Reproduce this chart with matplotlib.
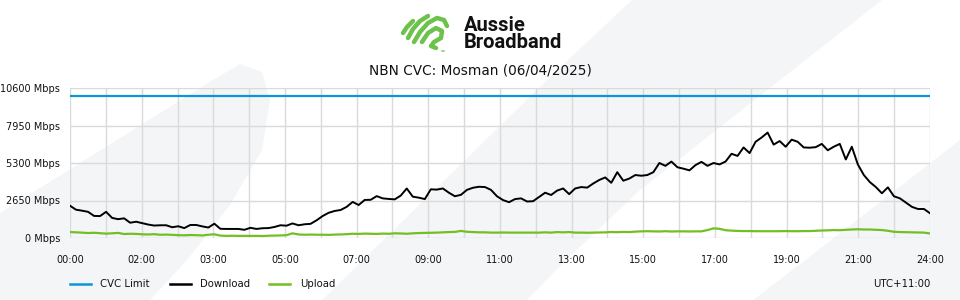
import numpy as np
import matplotlib
matplotlib.use("Agg")
import matplotlib.pyplot as plt
from matplotlib.lines import Line2D
from matplotlib.patches import Polygon, Circle

# ---------------- data ----------------
title = "NBN CVC: Mosman (06/04/2025)"
y_ticks = [0, 2650, 5300, 7950, 10600]
y_tick_labels = ["0 Mbps", "2650 Mbps", "5300 Mbps", "7950 Mbps", "10600 Mbps"]
x_tick_labels = ["00:00", "02:00", "03:00", "05:00", "07:00", "09:00", "11:00",
                 "13:00", "15:00", "17:00", "19:00", "21:00", "24:00"]
series_names = ["CVC Limit", "Download", "Upload"]
series_colors = ["#0a96d8", "#000000", "#72bf24"]
timezone_label = "UTC+11:00"

cvc_limit = 10000

download = [
    2280, 2000, 1930, 1850, 1560, 1550, 1850, 1420, 1330, 1390, 1080, 1150,
    1050, 950, 880, 900, 900, 760, 830, 700, 920, 920, 820, 740,
    1010, 650, 640, 640, 640, 580, 720, 640, 690, 700, 780, 900,
    870, 1030, 900, 970, 1000, 1250, 1550, 1780, 1910, 1980, 2200, 2550,
    2330, 2690, 2700, 2960, 2800, 2760, 2730, 3000, 3500, 2920, 2850, 2750,
    3440, 3420, 3500, 3200, 2950, 3050, 3400, 3550, 3620, 3600, 3400, 2950,
    2680, 2530, 2750, 2800, 2580, 2600, 2900, 3200, 3040, 3350, 3500, 3100,
    3500, 3600, 3560, 3850, 4100, 4280, 3900, 4650, 4050, 4200, 4450, 4400,
    4450, 4650, 5300, 5100, 5400, 5000, 4900, 4780, 5150, 5380, 5100, 5300,
    5200, 5400, 5950, 5800, 6400, 6000, 6800, 7100, 7450, 6600, 6850, 6450,
    6950, 6800, 6400, 6380, 6420, 6650, 6200, 6450, 6650, 5550, 6450, 5200,
    4450, 3950, 3600, 3160, 3580, 2950, 2800, 2500, 2200, 2050, 2050, 1750,
]

upload = [
    420, 400, 380, 350, 370, 340, 310, 330, 360, 280, 300, 290,
    260, 250, 270, 230, 240, 220, 200, 190, 210, 200, 180, 230,
    260, 170, 150, 160, 150, 150, 150, 150, 140, 160, 170, 180,
    200, 330, 250, 230, 240, 230, 230, 220, 240, 250, 270, 300,
    290, 310, 300, 290, 310, 300, 330, 320, 300, 330, 350, 360,
    370, 380, 400, 420, 430, 500, 440, 420, 400, 400, 380, 380,
    390, 380, 380, 380, 380, 380, 380, 400, 380, 420, 400, 420,
    380, 380, 370, 380, 390, 400, 420, 410, 430, 420, 450, 470,
    480, 470, 460, 480, 460, 470, 470, 460, 470, 470, 560, 680,
    650, 550, 520, 500, 490, 490, 480, 480, 480, 480, 480, 490,
    480, 480, 490, 490, 510, 530, 540, 560, 550, 580, 600, 620,
    600, 600, 580, 560, 510, 440, 420, 410, 400, 390, 380, 320,
]

# ---------------- figure ----------------
W, H = 960, 300
fig = plt.figure(figsize=(W / 100, H / 100), dpi=100)
fig.patch.set_facecolor("white")


def px(x, y):
    return (x / W, 1 - y / H)


# watermark background shapes
wm = "#f4f5f7"
shapes = [
    [(0, 213), (213, 80), (240, 64), (262, 72), (270, 100), (262, 150),
     (230, 205), (187, 260), (150, 300), (0, 300)],
    [(322, 300), (363, 260), (547, 80), (600, 30), (632, 0), (882, 0),
     (780, 80), (640, 190), (566, 260), (527, 300)],
    [(753, 300), (803, 262), (960, 140), (960, 300)],
]
for s in shapes:
    fig.add_artist(Polygon([px(*p) for p in s], closed=True,
                           transform=fig.transFigure, facecolor=wm,
                           edgecolor="none", zorder=-5))

ax = fig.add_axes([70 / W, 1 - 238 / H, 860 / W, 150 / H])
ax.set_facecolor("none")
ax.set_zorder(2)

n = len(download)
t = np.linspace(0, 24, n)
ax.plot([0, 24], [cvc_limit, cvc_limit], color=series_colors[0], lw=1.6, zorder=3)
ax.plot(t, download, color=series_colors[1], lw=1.4, zorder=4)
ax.plot(t, upload, color=series_colors[2], lw=1.6, zorder=3)

ax.set_xlim(0, 24)
ax.set_ylim(0, 10600)
ax.set_xticks(np.arange(0, 25, 2))
ax.set_xticklabels(x_tick_labels)
ax.set_xticks(np.arange(0, 25, 1), minor=True)
ax.set_yticks(y_ticks)
ax.set_yticklabels(y_tick_labels)
ax.grid(True, which="both", axis="x", color="#dadada", lw=1.0, zorder=1)
ax.grid(True, which="major", axis="y", color="#dadada", lw=1.0, zorder=1)
for sp in ax.spines.values():
    sp.set_visible(False)
ax.tick_params(axis="both", which="both", length=0, labelsize=7, colors="#111111")
ax.tick_params(axis="x", pad=12)
ax.tick_params(axis="y", pad=7)

# title
fig.text(480 / W, 1 - 70 / H, title, ha="center", va="center", fontsize=9.8,
         color="#111111")

# logo text
fig.text(464 / W, 1 - 34 / H, "Aussie\nBroadband", ha="left", va="center",
         fontsize=14.5, fontweight="bold", family="Roboto", linespacing=0.88,
         color="#111111")

# logo icon
green = "#6cc24a"
strokes = [
    [(403, 33), (407, 27), (413, 21)],
    [(408, 38), (413, 29), (420, 21), (428, 16)],
    [(414, 42), (420, 32), (428, 23), (437, 18), (444, 20), (447, 26)],
    [(422, 42), (428, 33), (436, 28), (442, 31), (441, 38), (434, 42),
     (431, 46), (436, 48)],
]
for s in strokes:
    xs = [p[0] / W for p in s]
    ys = [1 - p[1] / H for p in s]
    fig.add_artist(Line2D(xs, ys, color=green, lw=3.2, solid_capstyle="round",
                          solid_joinstyle="round", transform=fig.transFigure))
fig.add_artist(Circle(px(443, 51), 2.2 / W, transform=fig.transFigure,
                      facecolor=green, edgecolor="none"))

# legend
leg_y = 284
leg_items = [(70, 100), (170, 200), (269, 300)]
for (lx, tx), name, col in zip(leg_items, series_names, series_colors):
    fig.add_artist(Line2D([lx / W, (lx + 21) / W], [1 - leg_y / H] * 2,
                          color=col, lw=1.8, transform=fig.transFigure))
    fig.text(tx / W, 1 - leg_y / H, name, ha="left", va="center",
             fontsize=7.3, color="#111111")
fig.text(930 / W, 1 - leg_y / H, timezone_label, ha="right", va="center",
         fontsize=7.3, color="#111111")

fig.savefig("out.png", dpi=100)
